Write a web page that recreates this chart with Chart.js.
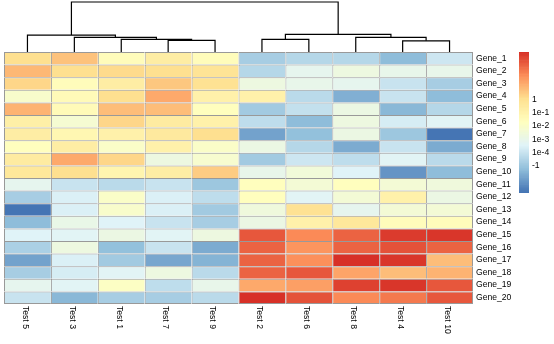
<!DOCTYPE html>
<html>
<head>
<meta charset="utf-8">
<script src="https://cdn.jsdelivr.net/npm/chart.js@4.4.1/dist/chart.umd.min.js"></script>
<style>
  html, body { margin: 0; padding: 0; background: #ffffff; }
  #wrap { position: relative; width: 554px; height: 344px; overflow: hidden; background: #ffffff; }
  #wrap canvas { position: absolute; }
</style>
</head>
<body>
<div id="wrap">
  <canvas id="dendro" width="515" height="52" style="left:0;top:0;width:515px;height:52px"></canvas>
  <canvas id="heat" width="515" height="344" style="left:0;top:0;width:515px;height:344px"></canvas>
  <canvas id="scale" width="39" height="344" style="left:515px;top:0;width:39px;height:344px"></canvas>
</div>
<script>
// Columns in clustered order, rows top to bottom
const tests = ['Test 5', 'Test 3', 'Test 1', 'Test 7', 'Test 9', 'Test 2', 'Test 6', 'Test 8', 'Test 4', 'Test 10'];
const genes = ['Gene_1', 'Gene_2', 'Gene_3', 'Gene_4', 'Gene_5', 'Gene_6', 'Gene_7', 'Gene_8', 'Gene_9', 'Gene_10',
               'Gene_11', 'Gene_12', 'Gene_13', 'Gene_14', 'Gene_15', 'Gene_16', 'Gene_17', 'Gene_18', 'Gene_19', 'Gene_20'];

// Expression values, one row per gene, columns in the order of `tests`
const cellValues = [
  [ 4.0,   4.6,   2.4,   3.3,   2.4,  -0.8,  -0.5,  -0.5,  -1.28,  0.1 ],
  [ 4.9,   4.0,   4.1,   4.0,   3.8,  -0.4,   0.8,   1.2,   0.9,   0.9 ],
  [ 4.2,   2.4,   3.3,   4.5,   3.85,  1.3,   0.9,   0.8,   0.0,  -0.75],
  [ 1.9,   2.5,   4.0,   5.2,   3.0,   3.0,  -0.3,  -1.6,   0.0,  -1.28],
  [ 5.0,   2.5,   4.7,   4.8,   2.3,  -0.9,  -0.1,   1.1,  -1.45, -0.4 ],
  [ 3.2,   1.7,   4.2,   3.4,   3.0,  -0.2,  -1.25,  1.2,   0.3,   0.6 ],
  [ 3.3,   2.7,   3.1,   3.5,   4.0,  -1.9,  -1.2,   1.1,  -1.0,  -2.95],
  [ 2.3,   3.3,   2.0,   3.1,   2.0,   1.1,  -0.45, -1.7,  -0.05, -1.7 ],
  [ 3.4,   5.2,   4.2,   1.3,   1.8,  -0.9,   0.05, -0.25,  0.6,  -0.35],
  [ 3.6,   4.0,   2.8,   3.3,   4.4,   0.9,   1.5,   0.5,  -2.3,  -1.28],
  [ 0.8,   0.0,  -0.35,  0.0,  -0.95,  2.3,   1.6,   2.3,   1.6,   1.4 ],
  [-0.8,   0.4,   2.0,   0.35, -0.25,  2.3,   0.65,  1.6,   3.1,   1.1 ],
  [-3.05,  0.35,  1.9,   0.4,  -0.9,   1.4,   3.9,   0.8,   1.6,   1.6 ],
  [-1.28,  1.0,   0.5,   0.0,  -0.8,   1.1,   3.0,   3.6,   2.4,   2.4 ],
  [ 0.5,   0.65,  1.1,   0.65,  1.2,   6.8,   5.8,   6.5,   7.3,   7.35],
  [-0.65,  1.3,  -1.2,   0.0,  -1.75,  6.5,   5.6,   6.5,   6.9,   6.5 ],
  [-1.9,   0.35, -0.9,  -1.8,  -1.55,  6.5,   5.7,   7.56,  7.4,   4.8 ],
  [-0.8,   0.3,   0.65,  1.2,  -0.3,   6.5,   6.8,   5.3,   4.8,   5.0 ],
  [ 0.8,   0.65,  2.1,  -0.2,   0.9,   5.2,   5.4,   7.2,   7.4,   6.8 ],
  [ 0.0,  -1.45, -0.75, -0.8,  -0.3,   7.56,  6.9,   5.8,   6.1,   6.8 ]
];

// Column clustering (hclust style): negative = leaf position (1-based), positive = earlier merge
const mergeLeft   = [-9, -4, -3, -6, -2, -8, -1, 4, 7];
const mergeRight  = [-10, -5,  2, -7,  3,  1,  5, 6, 8];
const mergeHeight = [3.30, 3.42, 3.71, 3.73, 4.31, 4.33, 5.00, 5.21, 14.8];

// Colour key
const legendBreaks = [-1, 0, 1, 2, 3, 4];
const legendLabels = ['-1', '1e-4', '1e-3', '1e-2', '1e-1', '1'];
const rampAnchors = ['#4575B4', '#91BFDB', '#E0F3F8', '#FFFFBF', '#FEE090', '#FC8D59', '#D73027'];

Chart.defaults.font.family = "'Liberation Sans', Arial, sans-serif";
Chart.defaults.font.size = 8.6;
Chart.defaults.color = '#000000';

// Linear RGB ramp through the anchor colours
function hexToRgb(h) {
  return [parseInt(h.slice(1, 3), 16), parseInt(h.slice(3, 5), 16), parseInt(h.slice(5, 7), 16)];
}
function buildRamp(anchors, n) {
  const rgb = anchors.map(hexToRgb);
  const out = [];
  for (let i = 0; i < n; i++) {
    const t = i / (n - 1) * (rgb.length - 1);
    const k = Math.min(Math.floor(t), rgb.length - 2);
    const f = t - k;
    const c = rgb[k].map((v, j) => Math.round(v + (rgb[k + 1][j] - v) * f));
    out.push('rgb(' + c.join(',') + ')');
  }
  return out;
}
const palette = buildRamp(rampAnchors, 100);
const allValues = cellValues.flat();
const vMin = Math.min(...allValues);
const vMax = Math.max(...allValues);
function colorFor(v) {
  const idx = Math.min(palette.length - 1, Math.max(0, Math.floor((v - vMin) / (vMax - vMin) * palette.length)));
  return palette[idx];
}

// ---- column dendrogram ----
const nodeX = [];
function posOf(ref) { return ref < 0 ? (-ref - 1) : nodeX[ref - 1]; }
function heightOf(ref) { return ref < 0 ? 0 : mergeHeight[ref - 1]; }
const dendroSets = mergeLeft.map((l, i) => {
  const r = mergeRight[i];
  const xl = posOf(l), xr = posOf(r), h = mergeHeight[i];
  nodeX.push((xl + xr) / 2);
  return {
    data: [{ x: xl, y: heightOf(l) }, { x: xl, y: h }, { x: xr, y: h }, { x: xr, y: heightOf(r) }],
    showLine: true,
    borderColor: '#000000',
    borderWidth: 1.2,
    pointRadius: 0,
    tension: 0,
    clip: false
  };
});

new Chart(document.getElementById('dendro'), {
  type: 'scatter',
  data: { datasets: dendroSets },
  options: {
    responsive: false,
    animation: false,
    layout: { padding: { left: 4, right: 42, top: 2, bottom: 0 } },
    plugins: { legend: { display: false }, tooltip: { enabled: false } },
    scales: {
      x: { type: 'linear', min: -0.5, max: tests.length - 0.5, display: false },
      y: { type: 'linear', min: 0, max: Math.max(...mergeHeight), display: false }
    }
  }
});

// ---- heatmap cells ----
const columnLabels = {
  id: 'columnLabels',
  afterDraw(chart) {
    const { ctx, chartArea } = chart;
    const x = chart.scales.x;
    ctx.save();
    ctx.font = "8.6px 'Liberation Sans', Arial, sans-serif";
    ctx.fillStyle = '#000000';
    ctx.textAlign = 'left';
    ctx.textBaseline = 'middle';
    tests.forEach((t, i) => {
      ctx.save();
      ctx.translate(x.getPixelForValue(i + 0.5) - 2.3, chartArea.bottom + 2);
      ctx.rotate(Math.PI / 2);
      ctx.fillText(t, 0, 0);
      ctx.restore();
    });
    ctx.restore();
  }
};

new Chart(document.getElementById('heat'), {
  type: 'bar',
  data: {
    labels: genes,
    datasets: tests.map((t, c) => ({
      label: t,
      data: genes.map(() => [c, c + 1]),
      backgroundColor: genes.map((g, r) => colorFor(cellValues[r][c])),
      borderColor: '#999999',
      borderWidth: (ctx) => ({
        top: 1,
        left: 1,
        right: c === tests.length - 1 ? 1 : 0,
        bottom: ctx.dataIndex === genes.length - 1 ? 1 : 0
      }),
      borderSkipped: false,
      inflateAmount: 0,
      grouped: false,
      barPercentage: 1,
      categoryPercentage: 1
    }))
  },
  options: {
    indexAxis: 'y',
    responsive: false,
    animation: false,
    layout: { padding: { left: 4, top: 52, right: 0, bottom: 40 } },
    plugins: { legend: { display: false }, tooltip: { enabled: false } },
    scales: {
      x: { type: 'linear', min: 0, max: tests.length, display: false },
      y: {
        type: 'category',
        position: 'right',
        grid: { display: false, drawTicks: false },
        border: { display: false },
        ticks: { padding: 3, autoSkip: false, color: '#000000' },
        afterFit: (s) => { s.width = 42; }
      }
    }
  },
  plugins: [columnLabels]
});

// ---- colour key ----
const keyStep = (vMax - vMin) / palette.length;
new Chart(document.getElementById('scale'), {
  type: 'bar',
  data: {
    labels: [''],
    datasets: palette.map((col, k) => ({
      data: [[vMin + k * keyStep, vMin + (k + 1) * keyStep]],
      backgroundColor: col,
      borderWidth: 0,
      grouped: false,
      barPercentage: 1,
      categoryPercentage: 1
    }))
  },
  options: {
    responsive: false,
    animation: false,
    layout: { padding: { left: 4, top: 52, right: 0, bottom: 151 } },
    plugins: { legend: { display: false }, tooltip: { enabled: false } },
    scales: {
      x: { display: false },
      y: {
        type: 'linear',
        position: 'right',
        min: vMin,
        max: vMax,
        grid: { display: false, drawTicks: false },
        border: { display: false },
        afterBuildTicks: (s) => { s.ticks = legendBreaks.map(v => ({ value: v })); },
        ticks: { padding: 3, autoSkip: false, color: '#000000', callback: (v, i) => legendLabels[i] },
        afterFit: (s) => { s.width = 25; }
      }
    }
  }
});
</script>
</body>
</html>
